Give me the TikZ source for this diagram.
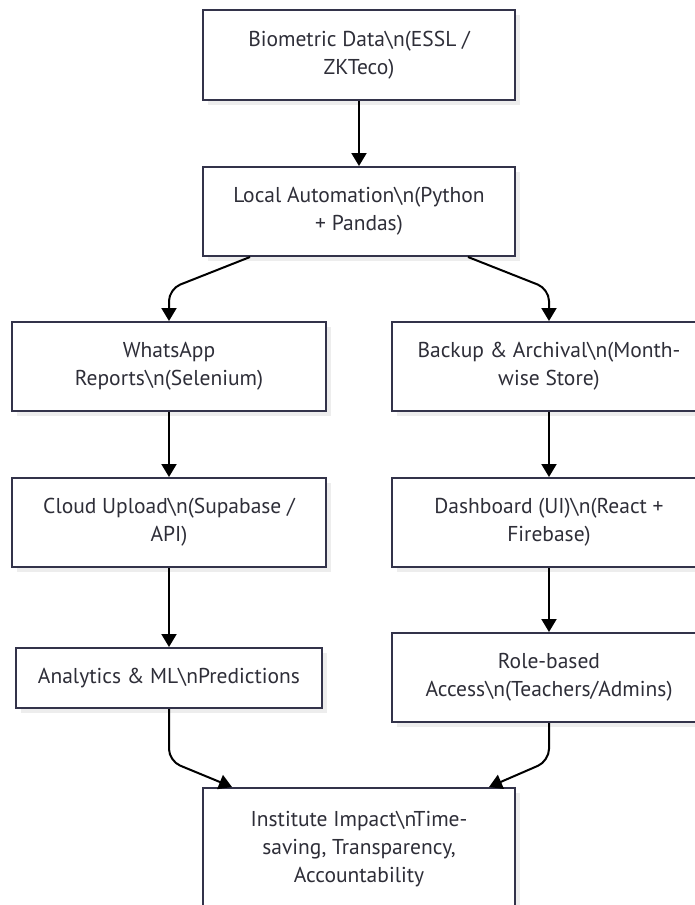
\documentclass[tikz,border=0pt]{standalone}
\usepackage{fontspec}
\setmainfont{PT Sans}
\usepackage{xcolor}
\usepackage{tikz}
\usetikzlibrary{shadows,arrows.meta}
\definecolor{boxline}{HTML}{33334A}
\definecolor{boxtext}{HTML}{2E2E38}
\tikzstyle{stage}=[
    rectangle,
    draw=boxline,
    line width=2pt,
    fill=white,
    text=boxtext,
    align=center,
    font=\fontsize{21.5}{28}\selectfont,
    minimum width=314pt,
    minimum height=89pt,
    drop shadow={shadow xshift=5pt, shadow yshift=-5pt, fill=black!7, opacity=1}]
\tikzstyle{flow}=[
    draw=black,
    line width=2pt,
    rounded corners=12pt,
    -{Triangle[width=15pt,length=13pt]}]

\begin{document}
\begin{tikzpicture}[x=1pt,y=-1pt]
    \useasboundingbox (0,0) rectangle (695,905);

    \node[stage, minimum width=312pt, minimum height=90pt] (bio) at (359,55)
      {Biometric Data\textbackslash n(ESSL /\\ZKTeco)};
    \node[stage, minimum width=312pt] (loc) at (359,211.5)
      {Local Automation\textbackslash n(Python\\+ Pandas)};

    \node[stage] (wa) at (169,366.5)
      {WhatsApp\\Reports\textbackslash n(Selenium)};
    \node[stage] (bak) at (549,366.5)
      {Backup \& Archival\textbackslash n(Month-\\wise Store)};

    \node[stage] (cld) at (169,522.5)
      {Cloud Upload\textbackslash n(Supabase /\\API)};
    \node[stage] (dsh) at (549,522.5)
      {Dashboard (UI)\textbackslash n(React +\\Firebase)};

    \node[stage, minimum width=306pt, minimum height=60pt] (ana) at (169,678)
      {Analytics \& ML\textbackslash nPredictions};
    \node[stage] (rol) at (549,677.5)
      {Role-based\\Access\textbackslash n(Teachers/Admins)};

    \node[stage, minimum width=312pt, minimum height=122pt] (imp) at (359,849)
      {Institute Impact\textbackslash nTime-\\saving, Transparency,\\Accountability};

    \draw[flow] (bio.south) -- (loc.north);
    \draw[flow] ([xshift=-109pt]loc.south) -- ([yshift=32pt]wa.north) -- (wa.north);
    \draw[flow] ([xshift=109pt]loc.south) -- ([yshift=32pt]bak.north) -- (bak.north);
    \draw[flow] (wa.south) -- (cld.north);
    \draw[flow] (bak.south) -- (dsh.north);
    \draw[flow] (cld.south) -- (ana.north);
    \draw[flow] (dsh.south) -- (rol.north);
    \draw[flow] (ana.south) -- ([yshift=26pt]imp.north -| ana.south) -- ([xshift=-127pt]imp.north);
    \draw[flow] (rol.south) -- ([yshift=26pt]imp.north -| rol.south) -- ([xshift=130pt]imp.north);
\end{tikzpicture}
\end{document}
